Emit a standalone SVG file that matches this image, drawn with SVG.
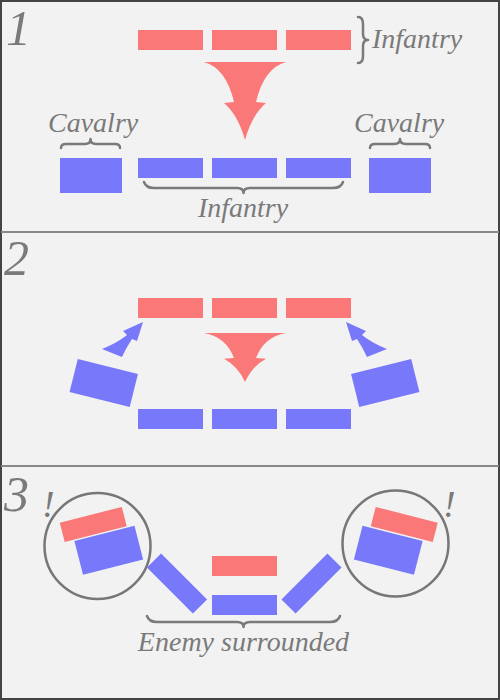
<svg xmlns="http://www.w3.org/2000/svg" width="500" height="700" viewBox="0 0 500 700">
<defs>
<style>
.bg{fill:#f2f2f2}
.red{fill:#fa7878}
.blue{fill:#7878fa}
.lbl{font-family:"Liberation Serif","Times New Roman",serif;font-style:italic;fill:#7a7a7a;font-size:28px}
.num{font-family:"Liberation Serif","Times New Roman",serif;font-style:italic;fill:#7a7a7a;font-size:50px}
.brace{fill:none;stroke:#7a7a7a;stroke-width:2.5;stroke-linecap:round;stroke-linejoin:round}
.ring{fill:none;stroke:#777;stroke-width:2.5}
.div{stroke:#888;stroke-width:2}
</style>
<path id="bigArrow" d="M204,62 L286,62 Q264,68 256,102 L266,103 Q252,115 245,140 Q238,115 224,103 L234,102 Q226,68 204,62 Z"/>
</defs>
<rect class="bg" x="0" y="0" width="500" height="700"/>
<rect x="1" y="1" width="498" height="698" fill="none" stroke="#444" stroke-width="2"/>
<line class="div" x1="1" y1="232" x2="499" y2="232"/>
<line class="div" x1="1" y1="466" x2="499" y2="466"/>

<text class="num" x="6" y="45">1</text>
<text class="num" x="4" y="275">2</text>
<text class="num" x="4" y="511">3</text>

<!-- Panel 1 -->
<g id="p1-red-infantry">
<rect class="red" x="138" y="30" width="65" height="20"/>
<rect class="red" x="212" y="30" width="65" height="20"/>
<rect class="red" x="286" y="30" width="65" height="20"/>
<path class="brace" d="M358,17 Q363,17 363,24 L363,34 Q363,40 368,40 Q363,40 363,46 L363,56 Q363,63 358,63"/>
<text class="lbl" x="372" y="48">Infantry</text>
</g>
<g id="p1-left-cavalry">
<rect class="blue" x="60" y="158" width="62" height="35"/>
<path class="brace" d="M61,148 Q61,144 66,144 L85,144 Q90.5,144 90.5,139 Q90.5,144 96,144 L115,144 Q120,144 120,148"/>
<text class="lbl" x="48" y="132">Cavalry</text>
</g>
<g id="p1-right-cavalry">
<rect class="blue" x="369" y="158" width="62" height="35"/>
<path class="brace" d="M370,148 Q370,144 375,144 L394,144 Q400,144 400,139 Q400,144 406,144 L425,144 Q430,144 430,148"/>
<text class="lbl" x="354" y="132">Cavalry</text>
</g>
<g id="p1-blue-infantry">
<rect class="blue" x="138" y="158" width="65" height="20"/>
<rect class="blue" x="212" y="158" width="65" height="20"/>
<rect class="blue" x="286" y="158" width="65" height="20"/>
<path class="brace" d="M144,182 Q146,188 154,188 L237,188 Q243.5,188 243.5,193 Q243.5,188 250,188 L333,188 Q341,188 343,182"/>
<text class="lbl" x="243" y="217" text-anchor="middle">Infantry</text>
</g>

<!-- Panel 2 -->
<g id="p2-red-infantry">
<rect class="red" x="138" y="298" width="65" height="20"/>
<rect class="red" x="212" y="298" width="65" height="20"/>
<rect class="red" x="286" y="298" width="65" height="20"/>
</g>
<g id="p2-blue-infantry">
<rect class="blue" x="138" y="409" width="65" height="20"/>
<rect class="blue" x="212" y="409" width="65" height="20"/>
<rect class="blue" x="286" y="409" width="65" height="20"/>
</g>
<g id="p2-left-cavalry">
<rect class="blue" x="-31" y="-17" width="62" height="34" transform="translate(103.75,383) rotate(14)"/>
</g>
<g id="p2-right-cavalry">
<rect class="blue" x="-31" y="-17" width="62" height="34" transform="translate(385.25,383) rotate(-14)"/>
</g>

<!-- Panel 3 -->
<g id="p3-left-flank">
<circle class="ring" cx="97.5" cy="546" r="53"/>
<rect class="red" x="-32" y="-10" width="64" height="20" transform="translate(93.25,524.5) rotate(-14.3)"/>
<rect class="blue" x="-31" y="-17.5" width="62" height="35" transform="translate(108.75,550.25) rotate(-14.3)"/>
<text class="lbl" x="42" y="517" style="font-size:38px">!</text>
</g>
<g id="p3-right-flank">
<circle class="ring" cx="395.5" cy="543.5" r="53"/>
<rect class="red" x="-32" y="-10" width="64" height="20" transform="translate(404.25,524.5) rotate(14.3)"/>
<rect class="blue" x="-31" y="-17.5" width="62" height="35" transform="translate(388.25,550.25) rotate(14.3)"/>
<text class="lbl" x="443" y="517" style="font-size:38px">!</text>
</g>
<g id="p3-left-wing">
<rect class="blue" x="-32.5" y="-10" width="65" height="20" transform="translate(177,583.5) rotate(45)"/>
</g>
<g id="p3-right-wing">
<rect class="blue" x="-32.5" y="-10" width="65" height="20" transform="translate(311.5,583.5) rotate(-45)"/>
</g>
<g id="p3-center">
<rect class="red" x="212" y="556" width="65" height="20"/>
<rect class="blue" x="212" y="595" width="65" height="20"/>
<path class="brace" d="M147,616 Q149,622 157,622 L237,622 Q243.5,622 243.5,627 Q243.5,622 250,622 L330,622 Q338,622 340,616"/>
<text class="lbl" x="243.5" y="651" text-anchor="middle">Enemy surrounded</text>
</g>

<g id="connectors">
<use href="#bigArrow" class="red"/>
<use href="#bigArrow" class="red" transform="translate(0,333) scale(1,0.628) translate(0,-62)"/>
<path class="blue" d="M143,322 L137,341 L132,339 Q126,348 122,357 L102,349 Q117,343 127,335 L123,331 Z"/>
<path class="blue" d="M346,322 L352,341 L357,339 Q363,348 367,357 L387,349 Q372,343 362,335 L366,331 Z"/>
</g>
</svg>
